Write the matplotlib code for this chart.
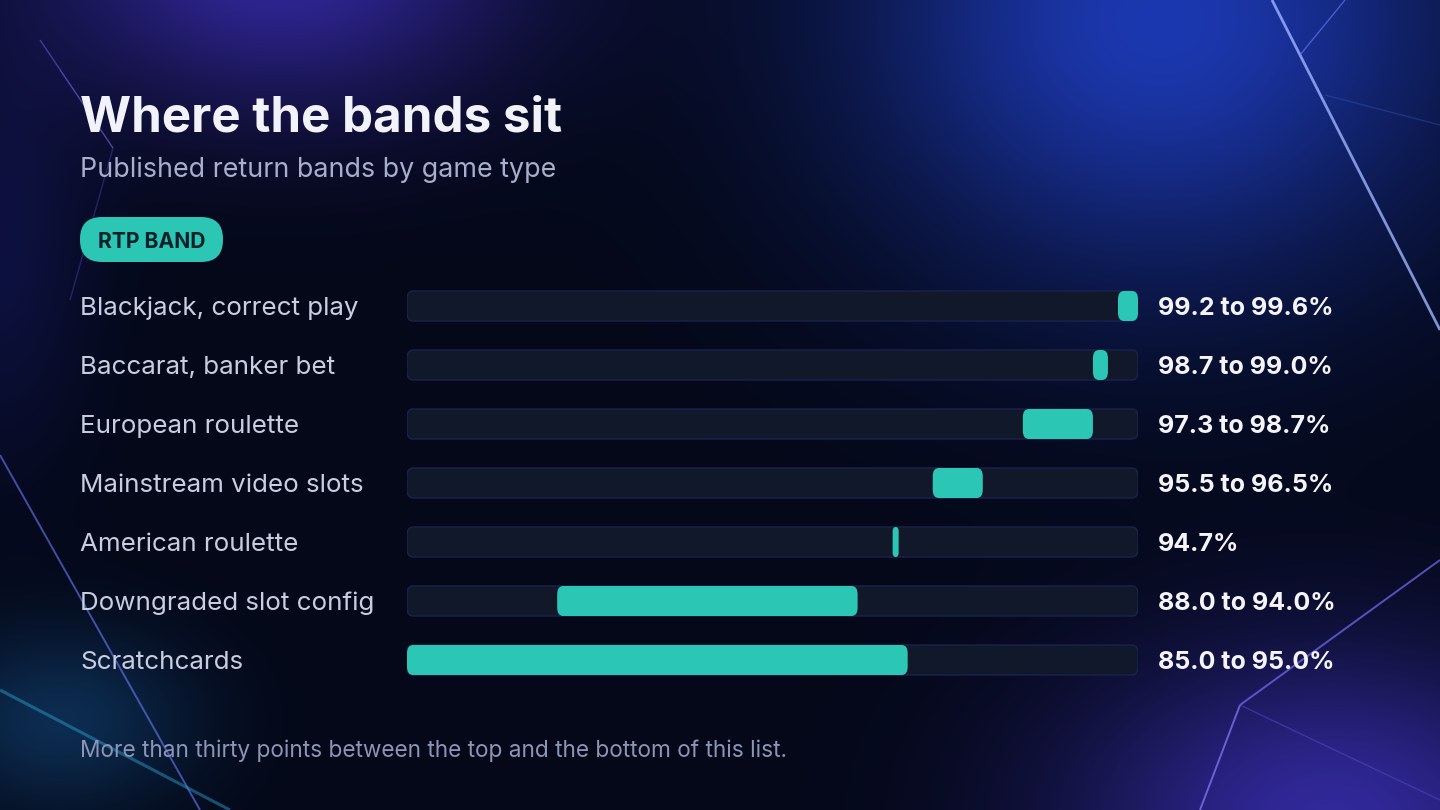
import matplotlib.pyplot as plt
import numpy as np
from matplotlib.patches import FancyBboxPatch

# data
games = ['Blackjack, correct play', 'Baccarat, banker bet', 'European roulette',
         'Mainstream video slots', 'American roulette', 'Downgraded slot config',
         'Scratchcards']
rtp_low = [99.2, 98.7, 97.3, 95.5, 94.7, 88.0, 85.0]
rtp_high = [99.6, 99.0, 98.7, 96.5, 94.7, 94.0, 95.0]
value_labels = ['99.2 to 99.6%', '98.7 to 99.0%', '97.3 to 98.7%', '95.5 to 96.5%',
                '94.7%', '88.0 to 94.0%', '85.0 to 95.0%']
scale_min, scale_max = 85.0, 99.6

W, H = 1440, 810
TEAL = '#2cc6b4'
FONT = 'Inter'

fig = plt.figure(figsize=(W / 100, H / 100), dpi=100)

# background canvas in pixel coords
bg = fig.add_axes([0, 0, 1, 1])
bg.set_xlim(0, W)
bg.set_ylim(H, 0)
bg.axis('off')

yy, xx = np.mgrid[0:H, 0:W]
img = np.zeros((H, W, 3))
img[:] = np.array([4, 8, 24]) / 255.0


def glow(cx, cy, sx, sy, rgb, amp):
    g = np.exp(-(((xx - cx) / sx) ** 2 + ((yy - cy) / sy) ** 2))
    return g[..., None] * (np.array(rgb) / 255.0) * amp


img += glow(1160, 20, 300, 260, (30, 60, 190), 0.8)
img += glow(280, -40, 240, 150, (60, 40, 170), 0.75)
img += glow(1330, 820, 260, 170, (70, 50, 200), 0.65)
img += glow(60, 720, 130, 90, (20, 90, 140), 0.4)
img += glow(0, 250, 90, 200, (25, 25, 110), 0.35)
img = np.clip(img, 0, 1)
bg.imshow(img, extent=(0, W, H, 0), aspect='auto', zorder=0)

# light streaks
streaks = [
    ((1272, 0), (1440, 330), '#9fb4ff', 2.0, 0.8),
    ((1300, 55), (1345, 0), '#6f7dff', 1.0, 0.6),
    ((1325, 95), (1440, 125), '#3a6ad0', 1.0, 0.3),
    ((1240, 705), (1440, 560), '#7a6cff', 1.4, 0.7),
    ((1240, 705), (1200, 810), '#8a7cff', 1.4, 0.7),
    ((1240, 705), (1440, 800), '#5a50d0', 1.0, 0.45),
    ((0, 455), (200, 810), '#6a7cff', 1.4, 0.6),
    ((0, 690), (230, 810), '#2aa8d8', 2.2, 0.45),
    ((40, 40), (113, 148), '#7a70ff', 1.0, 0.45),
    ((113, 148), (70, 300), '#5a50e0', 1.0, 0.35),
    ((113, 148), (60, 70), '#6a60f0', 0.8, 0.3),
]
for (x0, y0), (x1, y1), c, lw, a in streaks:
    bg.plot([x0, x1], [y0, y1], color=c, lw=lw, alpha=a, zorder=1, solid_capstyle='butt')

# titles
bg.text(80, 132, 'Where the bands sit', fontsize=35.5, fontweight='bold', color='#f2f2fa',
        family=FONT, va='baseline', zorder=5)
bg.text(80, 170, 'Published return bands by game type', fontsize=19.3, color='#a8aecb',
        family=FONT, va='center', zorder=5)

# pill label
bg.add_patch(FancyBboxPatch((80, 217), 143, 45, boxstyle='round,pad=0,rounding_size=22',
                            fc=TEAL, ec='none', zorder=5))
bg.text(151.5, 242, 'RTP BAND', fontsize=15.2, fontweight='bold', color='#08202a',
        family=FONT, ha='center', va='center', zorder=6)

bg.text(80, 751, 'More than thirty points between the top and the bottom of this list.',
        fontsize=16.3, color='#8d94b5', family=FONT, va='center', zorder=5)

# chart axes: tracks from x=407 to 1138 px, rows 59 px apart centred at 306
row0, pitch = 306, 59
n = len(games)
top_px = row0 - pitch / 2
bot_px = row0 + pitch * (n - 0.5)
ax = fig.add_axes([407 / W, 1 - bot_px / H, (1138 - 407) / W, (bot_px - top_px) / H])
ax.set_xlim(scale_min, scale_max)
ax.set_ylim(n - 0.5, -0.5)
ax.axis('off')
ax.patch.set_alpha(0)

px_x = (1138 - 407) / (scale_max - scale_min)   # pixels per data unit in x
px_y = pitch                                      # pixels per row
bar_h = 30 / px_y
aspect = px_x / px_y


def rbar(x0, width, y, fc, ec='none', lw=0, radius_px=6, z=3):
    r = min(radius_px / px_x, width / 2)
    p = FancyBboxPatch((x0, y - bar_h / 2), width, bar_h,
                       boxstyle=f'round,pad=0,rounding_size={r}',
                       mutation_aspect=1 / aspect, fc=fc, ec=ec, lw=lw, zorder=z)
    ax.add_patch(p)


min_w = 6 / px_x
for i, (lo, hi) in enumerate(zip(rtp_low, rtp_high)):
    rbar(scale_min, scale_max - scale_min, i, '#111829', ec='#1a2250', lw=1.0, z=2)
    rbar(lo, max(hi - lo, min_w), i, TEAL, z=3)

for i, name in enumerate(games):
    y = row0 + pitch * i + 2.5
    bg.text(80, y, name, fontsize=18.7, color='#c9cde0', family=FONT, va='center', zorder=5)
    bg.text(1158, y, value_labels[i], fontsize=18, fontweight='bold', color='#f4f4fa',
            family=FONT, va='center', zorder=5)

fig.savefig('out.png', dpi=100, facecolor='#040818')
